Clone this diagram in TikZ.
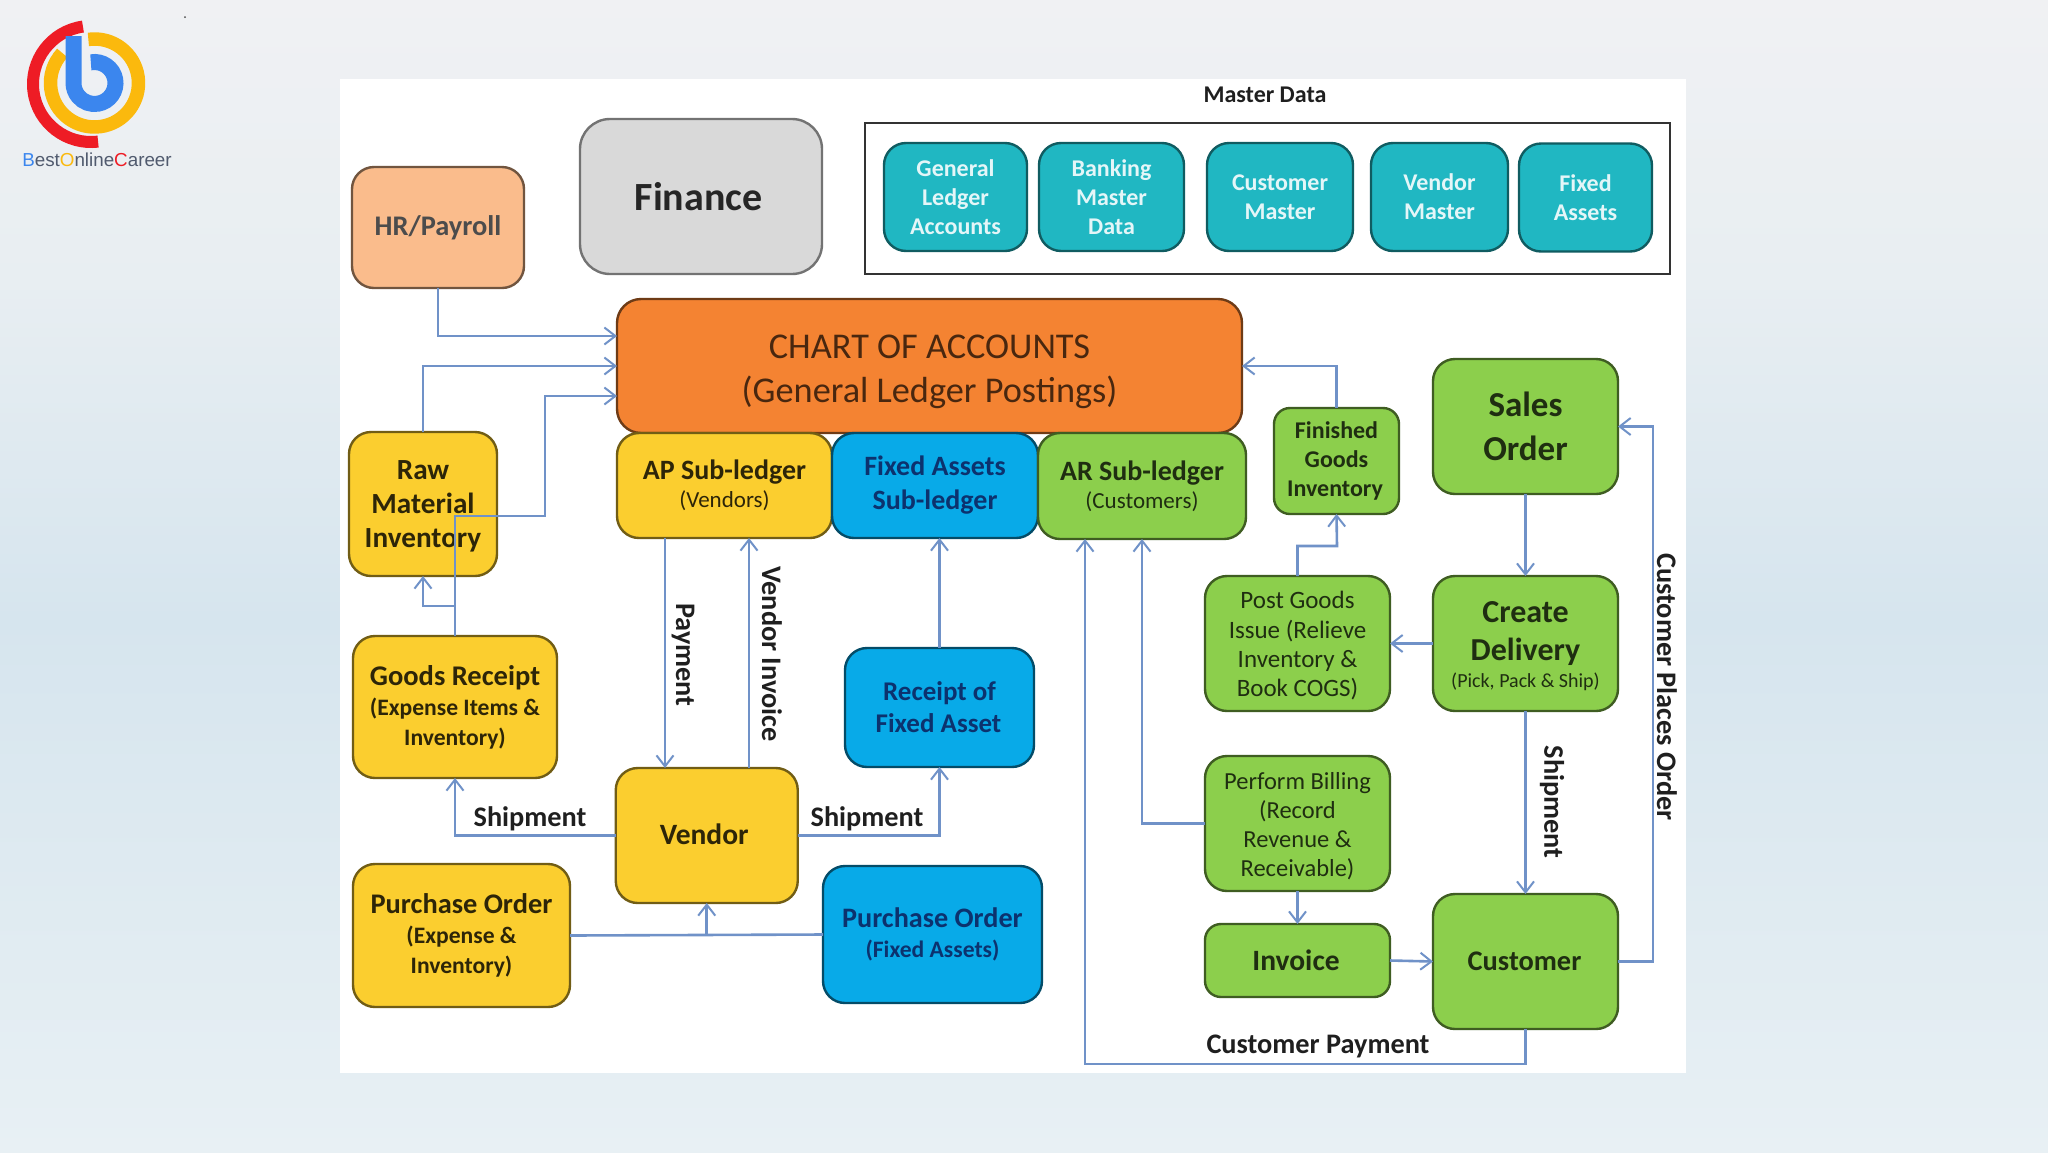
\documentclass[tikz,border=0pt]{standalone}
\usepackage{fontspec}
\setmainfont{Carlito}
\newfontfamily\logofont{Liberation Sans}
\usetikzlibrary{positioning,arrows.meta,calc}
\definecolor{bgtop}{RGB}{240,241,243}
\definecolor{bgup}{RGB}{232,238,242}
\definecolor{bgmid}{RGB}{214,229,238}
\definecolor{bglow}{RGB}{232,240,244}
\definecolor{flowblue}{RGB}{112,146,200}
\definecolor{peach}{RGB}{250,188,140}
\definecolor{ashgrey}{RGB}{217,217,217}
\definecolor{teal2}{RGB}{32,183,194}
\definecolor{coaorange}{RGB}{244,131,50}
\definecolor{amber}{RGB}{251,206,47}
\definecolor{azure}{RGB}{8,170,232}
\definecolor{leaf}{RGB}{140,207,76}
\definecolor{navyink}{RGB}{12,50,110}
\definecolor{logored}{RGB}{238,28,37}
\definecolor{logoyellow}{RGB}{251,185,13}
\definecolor{logoblue}{RGB}{59,134,238}
\definecolor{logoink}{RGB}{80,90,110}
\newcommand{\fs}[2]{\fontsize{#1}{#2}\selectfont}
\newcommand{\subln}[1]{{\fs{23.6}{30}#1}}
\newcommand{\tagln}[1]{{\fs{23}{24}\mdseries #1}}

\begin{document}
\begin{tikzpicture}[>={Straight Barb[length=11pt,width=17pt,line width=2pt]}, x=1pt, y=-1pt,
    bx/.style={draw,align=center,rounded corners=22pt,line width=2.4pt,inner sep=0pt,outer sep=0pt},
    sz/.style 2 args={minimum width=#1pt,minimum height=#2pt},
    ylw/.style={bx,fill=amber,draw=amber!45!black,text=amber!18!black},
    grn/.style={bx,fill=leaf,draw=leaf!45!black,text=leaf!22!black},
    blu/.style={bx,fill=azure,draw=azure!45!black,text=navyink},
    tl/.style={bx,fill=teal2,draw=teal2!50!black,text=white!88!teal2,font=\fs{24}{29}\bfseries},
    lbl/.style={text=black!88,font=\fs{28.3}{30}\bfseries,inner sep=0pt},
    flow/.style={->,draw=flowblue,line width=2.6pt},
    lnk/.style={draw=flowblue,line width=2.6pt}]
    \useasboundingbox (0,0) rectangle (2048,1152);
    \shade[top color=bgtop,bottom color=bgup] (0,0) rectangle (2048,280);
    \shade[top color=bgup,bottom color=bgmid] (0,280) rectangle (2048,620);
    \shade[top color=bgmid,bottom color=bglow] (0,620) rectangle (2048,1152);
    \fill[white] (340,79) rectangle (1686,1073);

    % logo
    \begin{scope}[shift={(91,84)},y=1pt]
      \draw[logored,line width=12pt] (98:58pt) arc[start angle=98,end angle=277,radius=58pt];
    \end{scope}
    \begin{scope}[shift={(94.5,83)},y=1pt]
      \draw[logoyellow,line width=13.5pt] (98:44pt) arc[start angle=98,end angle=-223,radius=44pt];
      \draw[logoblue,line width=16pt] (100:21pt) arc[start angle=100,end angle=-180,radius=21pt] -- (-21pt,47pt);
    \end{scope}
    \node[font=\logofont\fs{18.8}{22},text=logoink,inner sep=0pt] (brand) at (97,160)
      {\textcolor{logoblue}{B}est\textcolor{logoyellow}{O}nline\textcolor{logored}{C}areer};
    \fill[black!70] (185,17) circle (1pt);

    % top row
    \node[bx,sz={172}{121},fill=peach,draw=peach!45!black,text=black!70,font=\fs{28.4}{32}\bfseries] (hr) at (438,227.5) {HR/Payroll};
    \node[bx,sz={242}{155},rounded corners=30pt,fill=ashgrey,draw=black!55,text=black!85,font=\fs{40}{42}\bfseries] (finance) at (701,196.5) {\raisebox{1pt}{\hspace*{5pt}Finance\hspace*{10pt}}};
    \node[draw=black!80,line width=2pt,sz={805}{151},inner sep=0pt] (mdpanel) at (1267.5,198.5) {};
    \node[lbl,font=\fs{24}{28}\bfseries] (mdtitle) at (1265,95) {Master Data};
    \node[tl,sz={143}{108}] (glacc) at (955.5,197) {General\\Ledger\\Accounts};
    \node[tl,sz={145}{108}] (bank) at (1111.5,197) {Banking\\Master\\Data};
    \node[tl,sz={146}{108}] (custm) at (1280,197) {Customer\\Master};
    \node[tl,sz={137}{108}] (vendm) at (1439.5,197) {Vendor\\Master};
    \node[tl,sz={133}{108}] (fixa) at (1585.5,197.5) {Fixed\\Assets};

    % ledger block
    \node[bx,sz={625}{134},rounded corners=24pt,fill=coaorange,draw=coaorange!45!black,text=coaorange!30!black,font=\fs{36.3}{44}] (coa) at (929.5,366) {\rule{0pt}{35pt}CHART OF ACCOUNTS\\(General Ledger Postings)};
    \node[ylw,sz={215}{105},font=\fs{28}{30}\bfseries] (ap) at (724.5,485.5) {AP Sub-ledger\\[-2pt]\tagln{(Vendors)}};
    \node[blu,sz={206}{105},font=\fs{28}{34}\bfseries] (fa) at (935,485.5) {Fixed Assets\\Sub-ledger};
    \node[grn,sz={208}{106},font=\fs{28}{30}\bfseries] (ar) at (1142,486) {AR Sub-ledger\\[-2pt]\tagln{(Customers)}};

    % purchasing side
    \node[ylw,sz={148}{144},font=\fs{29.2}{34}\bfseries] (raw) at (423,504) {\rule{0pt}{24pt}Raw\\Material\\Inventory};
    \node[ylw,sz={204}{142},font=\fs{28.5}{30}\bfseries] (gr) at (455,707) {Goods Receipt\\\subln{(Expense Items \&}\\\subln{Inventory)}};
    \node[ylw,sz={182}{135},font=\fs{29.5}{32}\bfseries] (vendor) at (706.75,835.5) {\raisebox{3pt}{Vendor}\hspace*{5pt}};
    \node[ylw,sz={217}{143},font=\fs{28.4}{30}\bfseries] (poy) at (461.5,935.5) {Purchase Order\\\subln{(Expense \&}\\\subln{Inventory)}};
    \node[blu,sz={219}{137},font=\fs{28.2}{30}\bfseries] (pob) at (932.5,934.5) {Purchase Order\\\subln{(Fixed Assets)}};
    \node[blu,sz={189}{119},font=\fs{27}{33}\bfseries] (receipt) at (939.5,707.5) {Receipt of\\\raisebox{1pt}{Fixed Asset}\hspace*{2pt}};

    % sales side
    \node[grn,sz={125}{106},rounded corners=16pt,font=\fs{24}{29}\bfseries] (finished) at (1336.5,461) {Finished\\Goods\\Inventory\hspace*{3pt}};
    \node[grn,sz={185}{135},font=\fs{35}{44}\bfseries] (sales) at (1525.5,426.5) {Sales\\Order};
    \node[grn,sz={185}{135},font=\fs{32}{38}\bfseries] (create) at (1525.5,643.5) {\rule{0pt}{26pt}Create\\Delivery\\[-11pt]{\fs{20}{22}\mdseries(Pick, Pack \& Ship)}};
    \node[grn,sz={185}{135},font=\fs{25}{29.2}\mdseries] (post) at (1297.5,643.5) {\rule{0pt}{22pt}Post Goods\\Issue (Relieve\\Inventory \&\\Book COGS)};
    \node[grn,sz={185}{135},font=\fs{24.5}{29}\mdseries] (billing) at (1297.5,823.5) {\rule{0pt}{22pt}Perform Billing\\(Record\\Revenue \&\\Receivable)};
    \node[grn,sz={185}{73},rounded corners=16pt,font=\fs{29.5}{32}\bfseries] (invoice) at (1297.5,960.5) {Invoice\hspace*{3pt}};
    \node[grn,sz={185}{135},font=\fs{28.4}{32}\bfseries] (customer) at (1525.5,961.5) {Customer\hspace*{2pt}};

    % bends
    \coordinate (jogcoa) at (545,516);
    \coordinate (grraw) at (455,606);
    \coordinate (pgbend) at (1337,546);
    \coordinate (payturn) at (1085,1064);
    \coordinate (orderx) at (1653,0);

    % connectors
    \draw[flow] (hr.south) |- ([yshift=30pt]coa.west);
    \draw[flow] (raw.north) |- (coa.west);
    \draw[flow] (gr.north) |- (jogcoa) |- ([yshift=-30pt]coa.west);
    \draw[flow] (grraw) -| (raw.south);
    \draw[flow] (ap.south -| 665,0) -- (vendor.north -| 665,0);
    \draw[flow] (vendor.north -| 749,0) -- (ap.south -| 749,0);
    \draw[flow] (receipt.north) -- (fa.south -| receipt.north);
    \draw[flow] (vendor.west) -| (gr.south);
    \draw[flow] (vendor.east) -| (receipt.south);
    \draw[lnk] (poy.east) -- (pob.west);
    \draw[flow] (vendor.south |- poy.east) -- (vendor.south);
    \draw[flow] (finished.north) |- (coa.east);
    \draw[flow] (post.north) |- (pgbend) -- (finished.south);
    \foreach \a/\b in {sales/create,create/post,billing/invoice} \draw[flow] (\a)--(\b);
    \draw[flow] (create) -- (customer);
    \draw[flow] (invoice.east) -- (customer.west);
    \draw[flow] (customer.east) -- (customer.east -| orderx) |- (sales.east);
    \draw[flow] (billing.west) -| (ar.south);
    \draw[flow] (customer.south) |- (payturn) -- (ar.south -| payturn);

    % labels
    \node[lbl,rotate=-90] (lpay) at (683,655) {Payment};
    \node[lbl,rotate=-90] (lvinv) at (772,654) {Vendor Invoice};
    \node[lbl] (lshipl) at (530,818.5) {Shipment};
    \node[lbl] (lshipr) at (867,818.5) {Shipment};
    \node[lbl,rotate=-90] (lshipv) at (1552,802) {Shipment};
    \node[lbl,rotate=-90] (lplace) at (1667,687) {Customer Places Order};
    \node[lbl] (lcpay) at (1318,1046) {Customer Payment};
  \end{tikzpicture}
\end{document}
